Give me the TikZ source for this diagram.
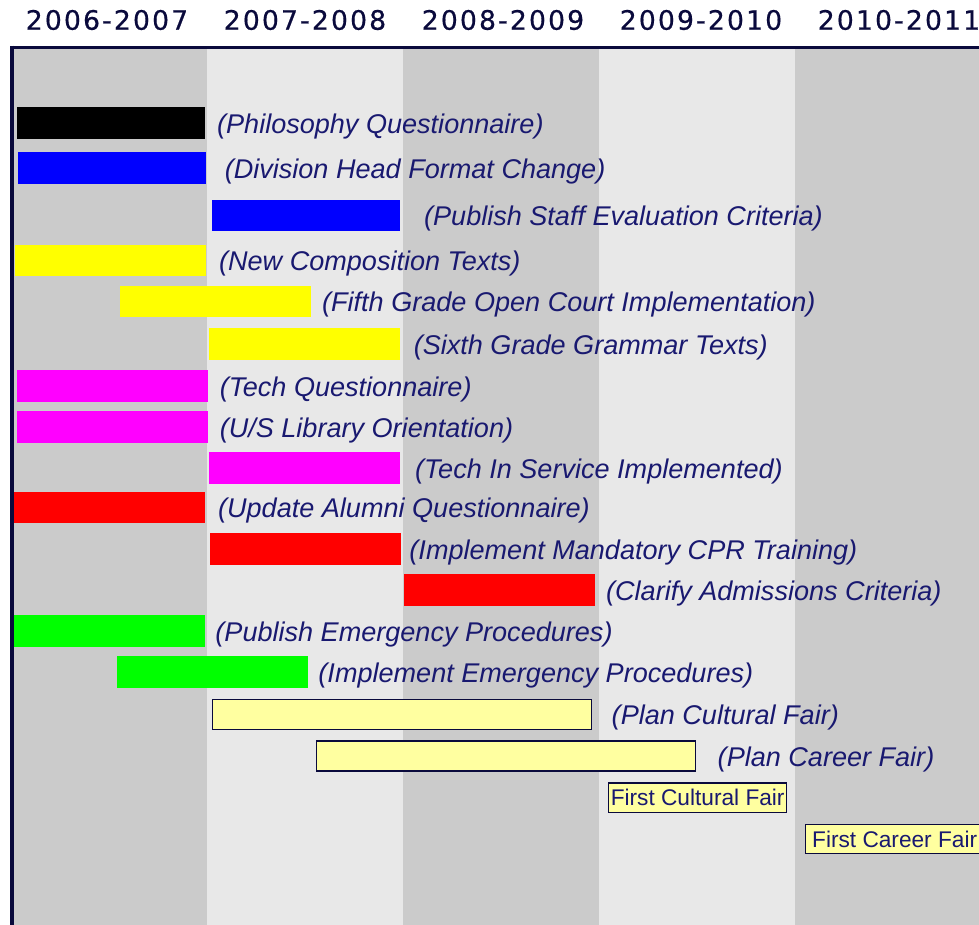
\documentclass[tikz,border=0pt]{standalone}
\usepackage{fontspec}
\setmainfont{Liberation Sans}
\newfontfamily\yearfont[LetterSpace=8,FakeBold=0.6]{DejaVu Sans}
\usetikzlibrary{positioning}

\definecolor{navy}{RGB}{10,10,60}
\definecolor{labelblue}{RGB}{25,25,112}
\definecolor{darkcol}{RGB}{203,203,203}
\definecolor{lightcol}{RGB}{232,232,232}
\definecolor{paleyellow}{RGB}{255,255,160}
\definecolor{barblack}{RGB}{0,0,0}
\definecolor{barblue}{RGB}{0,0,255}
\definecolor{baryellow}{RGB}{255,255,0}
\definecolor{barmagenta}{RGB}{255,0,255}
\definecolor{barred}{RGB}{255,0,0}
\definecolor{bargreen}{RGB}{0,255,0}

\begin{document}
\begin{tikzpicture}[x=0.75pt,y=-0.75pt,
  bar/.style={rectangle,anchor=west,inner sep=0pt,minimum width=143pt,minimum height=23.5pt},
  shortbar/.style={bar,minimum width=140.5pt},
  longbar/.style={bar,draw=navy,line width=1.1pt,fill=paleyellow,minimum width=284pt,minimum height=22.5pt},
  task/.style={anchor=west,inner sep=0pt,yshift=-2.5pt,text=labelblue,font=\fontsize{20.3}{24}\selectfont\itshape},
  event/.style={anchor=west,draw=navy,line width=1pt,fill=paleyellow,text=labelblue,
    inner xsep=0pt,inner ysep=0pt,minimum width=133.5pt,minimum height=22pt,font=\fontsize{17}{20}\selectfont},
  year/.style={text=navy,font=\yearfont\fontsize{20}{24}\selectfont}]

  \useasboundingbox (0,0) rectangle (979,925);

  \foreach \i/\col in {0/darkcol,1/lightcol,2/darkcol,3/lightcol,4/darkcol}
    \fill[\col] (11+196*\i,49) rectangle ++(196,876);

  \foreach \yr [count=\i] in {2006-2007,2007-2008,2008-2009,2009-2010,2010-2011}
    \node (year\i) [year] at ({198*\i-91},20) {\yr};

  \draw[navy,line width=2.25pt] (10,47) -- (979,47);
  \draw[navy,line width=3pt] (12,45.5) -- (12,925);

  \node (phil) [shortbar,fill=barblack] at (17,123) {};
  \node (philt) [task,right=9pt of phil] {(Philosophy Questionnaire)};

  \node (divhead) [shortbar,fill=barblue] at (18,168) {};
  \node (divheadt) [task,right=14pt of divhead] {(Division Head Format Change)};

  \node (staffeval) [shortbar,fill=barblue] at (212,215.5) {};
  \node (staffevalt) [task,right=18pt of staffeval] {(Publish Staff Evaluation Criteria)};

  \node (comptexts) [bar,fill=baryellow] at (15,260.5) {};
  \node (comptextst) [task,right=9.5pt of comptexts] {(New Composition Texts)};

  \node (opencourt) [bar,fill=baryellow] at (120,301.5) {};
  \node (opencourtt) [task,right=8pt of opencourt] {(Fifth Grade Open Court Implementation)};

  \node (grammar) [bar,fill=baryellow] at (209,344) {};
  \node (grammart) [task,right=10pt of grammar] {(Sixth Grade Grammar Texts)};

  \node (techq) [bar,fill=barmagenta] at (17,386) {};
  \node (techqt) [task,right=8.5pt of techq] {(Tech Questionnaire)};

  \node (library) [bar,fill=barmagenta] at (17,427) {};
  \node (libraryt) [task,right=8.5pt of library] {(U/S Library Orientation)};

  \node (inservice) [bar,fill=barmagenta] at (209,468) {};
  \node (inservicet) [task,right=11pt of inservice] {(Tech In Service Implemented)};

  \node (alumni) [bar,fill=barred] at (14,507.5) {};
  \node (alumnit) [task,right=9.5pt of alumni] {(Update Alumni Questionnaire)};

  \node (cpr) [bar,fill=barred] at (210,549) {};
  \node (cprt) [task,right=6pt of cpr] {(Implement Mandatory CPR Training)};

  \node (admissions) [bar,fill=barred] at (404,590) {};
  \node (admissionst) [task,right=8pt of admissions] {(Clarify Admissions Criteria)};

  \node (pubemerg) [bar,fill=bargreen] at (14,631) {};
  \node (pubemergt) [task,right=7.5pt of pubemerg] {(Publish Emergency Procedures)};

  \node (impemerg) [bar,fill=bargreen] at (117,672) {};
  \node (impemergt) [task,right=7.5pt of impemerg] {(Implement Emergency Procedures)};

  \node (plancult) [longbar] at (212,714.5) {};
  \node (plancultt) [task,right=14.5pt of plancult] {(Plan Cultural Fair)};

  \node (plancareer) [longbar] at (316,756) {};
  \node (plancareert) [task,right=16pt of plancareer] {(Plan Career Fair)};

  \node (firstcult) [event] at (608,797.5) {First Cultural Fair};
  \node (firstcareer) [event] at (805,839) {First Career Fair};
\end{tikzpicture}
\end{document}
